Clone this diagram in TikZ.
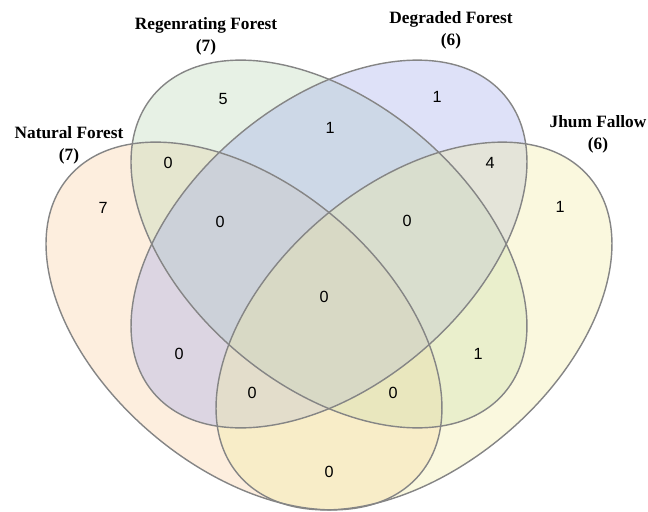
\documentclass[tikz,border=0pt]{standalone}
\usepackage{fontspec}
\setmainfont{Liberation Serif}
\setsansfont{Liberation Sans}
\definecolor{nfcol}{RGB}{250,205,160}
\definecolor{rfcol}{RGB}{185,215,180}
\definecolor{dfcol}{RGB}{160,170,235}
\definecolor{jfcol}{RGB}{240,235,160}

\begin{document}
\begin{tikzpicture}[x=0.025cm,y=0.025cm,
          venn/.style={fill opacity=0.35},
          rim/.style={draw=black!48,line width=1pt},
          title/.style={font=\fontsize{12.3}{15.5}\selectfont\bfseries,align=center,inner sep=0pt},
          count/.style={font=\sffamily\fontsize{11.5}{13}\selectfont,inner sep=0pt}
        ]
        \useasboundingbox (0,0) rectangle (648,511);
        \coordinate (cnf) at (244,185);
        \coordinate (crf) at (329,267);
        \coordinate (cdf) at (329,267);
        \coordinate (cjf) at (414,185);

        %sets
        \fill[venn,nfcol,rotate around={-40.3:(cnf)}] (cnf) ellipse [x radius=5.75cm,y radius=3.54cm];
        \fill[venn,rfcol,rotate around={-40.3:(crf)}] (crf) ellipse [x radius=5.75cm,y radius=3.54cm];
        \fill[venn,dfcol,rotate around={40.3:(cdf)}] (cdf) ellipse [x radius=5.75cm,y radius=3.54cm];
        \fill[venn,jfcol,rotate around={40.3:(cjf)}] (cjf) ellipse [x radius=5.75cm,y radius=3.54cm];
        \draw[rim,rotate around={-40.3:(cnf)}] (cnf) ellipse [x radius=5.75cm,y radius=3.54cm];
        \draw[rim,rotate around={-40.3:(crf)}] (crf) ellipse [x radius=5.75cm,y radius=3.54cm];
        \draw[rim,rotate around={40.3:(cdf)}] (cdf) ellipse [x radius=5.75cm,y radius=3.54cm];
        \draw[rim,rotate around={40.3:(cjf)}] (cjf) ellipse [x radius=5.75cm,y radius=3.54cm];

        %titles
        \node[title] (tnf) at (69,366) {Natural Forest\\(7)};
        \node[title] (trf) at (206,475) {Regenrating Forest\\(7)};
        \node[title] (tdf) at (451,481) {Degraded Forest\\(6)};
        \node[title] (tjf) at (598,377) {Jhum Fallow\\(6)};

        %counts
        \node[count] (nf) at (103,303) {7};
        \node[count] (rf) at (223,412) {5};
        \node[count] (df) at (437,414) {1};
        \node[count] (jf) at (560,304) {1};
        \node[count] (nfrf) at (168,348) {0};
        \node[count] (rfdf) at (330,383) {1};
        \node[count] (dfjf) at (490,348) {4};
        \node[count] (nfrfdf) at (220,289) {0};
        \node[count] (rfdfjf) at (407,290) {0};
        \node[count] (all) at (324,214) {0};
        \node[count] (nfdf) at (179,157) {0};
        \node[count] (rfjf) at (478,157) {1};
        \node[count] (nfdfjf) at (252,118) {0};
        \node[count] (nfrfjf) at (393,118) {0};
        \node[count] (nfjf) at (329,39) {0};
    \end{tikzpicture}
\end{document}
